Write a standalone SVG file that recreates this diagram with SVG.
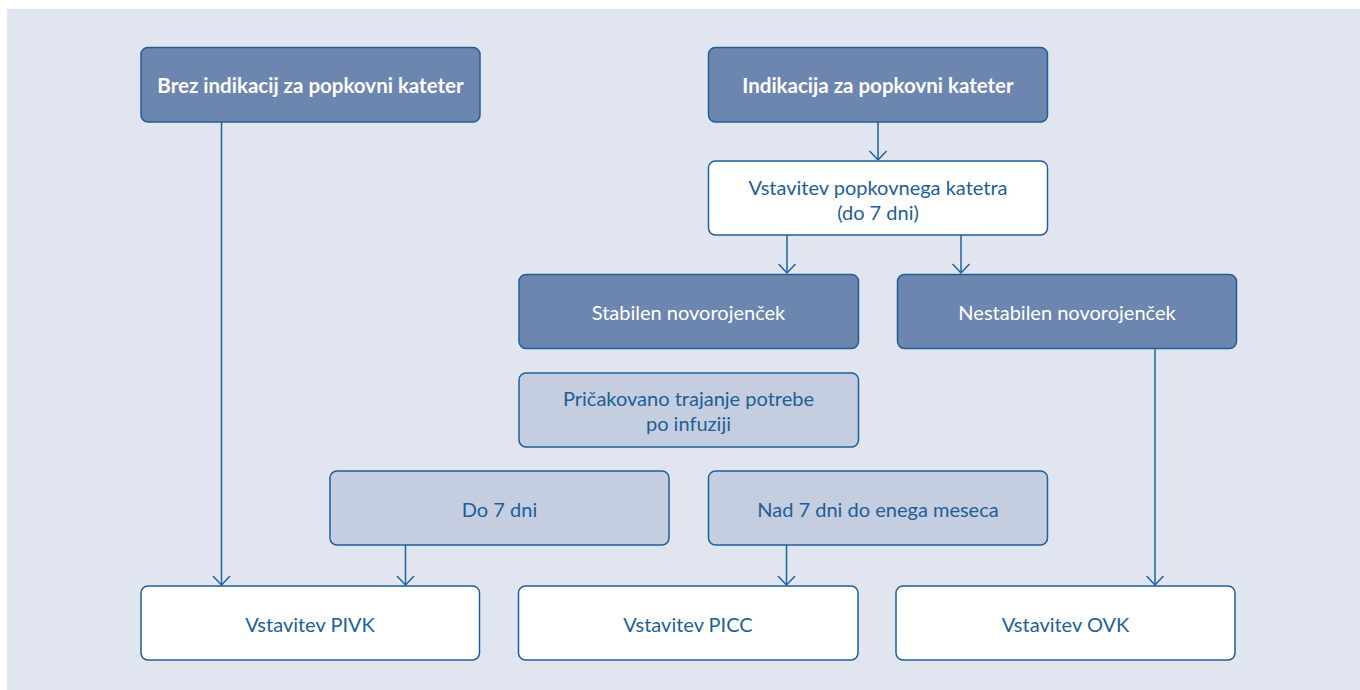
<svg xmlns="http://www.w3.org/2000/svg" width="1360" height="690" viewBox="0 0 1360 690">
<defs>
<style>
.dark{fill:#6c86b0;stroke:#1f5f96;stroke-width:1.5}
.light{fill:#c5cde0;stroke:#1f5f96;stroke-width:1.5}
.white{fill:#ffffff;stroke:#1f5f96;stroke-width:1.5}
text{font-family:"Lato","Noto Sans",sans-serif;font-size:20px;text-anchor:middle;dominant-baseline:central}
.tb{fill:#ffffff;font-weight:bold;font-size:20.5px}
.tw{fill:#ffffff}
.tl{fill:#1e5f96}
.conn{stroke:#1f6399;stroke-width:1.5;fill:none;marker-end:url(#arr)}
</style>
<marker id="arr" markerUnits="userSpaceOnUse" markerWidth="12" markerHeight="20" refX="10" refY="9" viewBox="0 0 12 18" orient="auto">
<path d="M1,0.5 L10,9 L1,17.5" fill="none" stroke="#1f6399" stroke-width="1.5"/>
</marker>
</defs>
<rect x="0" y="0" width="1360" height="690" fill="#ffffff"/>
<rect x="7" y="9" width="1353" height="681" fill="#e0e5ef"/>
<g id="connectors">
<path class="conn" d="M221.5,122 V585"/>
<path class="conn" d="M878,122 V160"/>
<path class="conn" d="M787,235 V273"/>
<path class="conn" d="M961,235 V273"/>
<path class="conn" d="M1155,349 V585"/>
<path class="conn" d="M405.5,545 V585"/>
<path class="conn" d="M786.5,545 V585"/>
</g>
<g id="n1"><rect class="dark" x="141" y="47.5" width="339" height="74.5" rx="7"/><text class="tb" x="310.5" y="85">Brez indikacij za popkovni kateter</text></g>
<g id="n2"><rect class="dark" x="708.5" y="47.5" width="339" height="74.5" rx="7"/><text class="tb" x="878" y="85">Indikacija za popkovni kateter</text></g>
<g id="n3"><rect class="white" x="708.5" y="161" width="339" height="74" rx="7"/><text class="tl" x="878" y="187">Vstavitev popkovnega katetra</text><text class="tl" x="878" y="212">(do 7 dni)</text></g>
<g id="n4"><rect class="dark" x="519" y="274.5" width="339.5" height="74" rx="7"/><text class="tw" x="688.5" y="312">Stabilen novorojenček</text></g>
<g id="n5"><rect class="dark" x="897.5" y="274.5" width="339" height="74" rx="7"/><text class="tw" x="1067" y="312">Nestabilen novorojenček</text></g>
<g id="n6"><rect class="light" x="519" y="373" width="339.5" height="74" rx="7"/><text class="tl" x="688.5" y="398">Pričakovano trajanje potrebe</text><text class="tl" x="688.5" y="423">po infuziji</text></g>
<g id="n7"><rect class="light" x="330" y="471" width="339" height="74" rx="7"/><text class="tl" x="499.5" y="509">Do 7 dni</text></g>
<g id="n8"><rect class="light" x="708.5" y="471" width="339" height="74" rx="7"/><text class="tl" x="878" y="509">Nad 7 dni do enega meseca</text></g>
<g id="n9"><rect class="white" x="141" y="586" width="338.5" height="74" rx="7"/><text class="tl" x="310" y="624">Vstavitev PIVK</text></g>
<g id="n10"><rect class="white" x="518.5" y="586" width="339.5" height="74" rx="7"/><text class="tl" x="688" y="624">Vstavitev PICC</text></g>
<g id="n11"><rect class="white" x="896" y="586" width="339" height="74" rx="7"/><text class="tl" x="1065.5" y="624">Vstavitev OVK</text></g>
</svg>
